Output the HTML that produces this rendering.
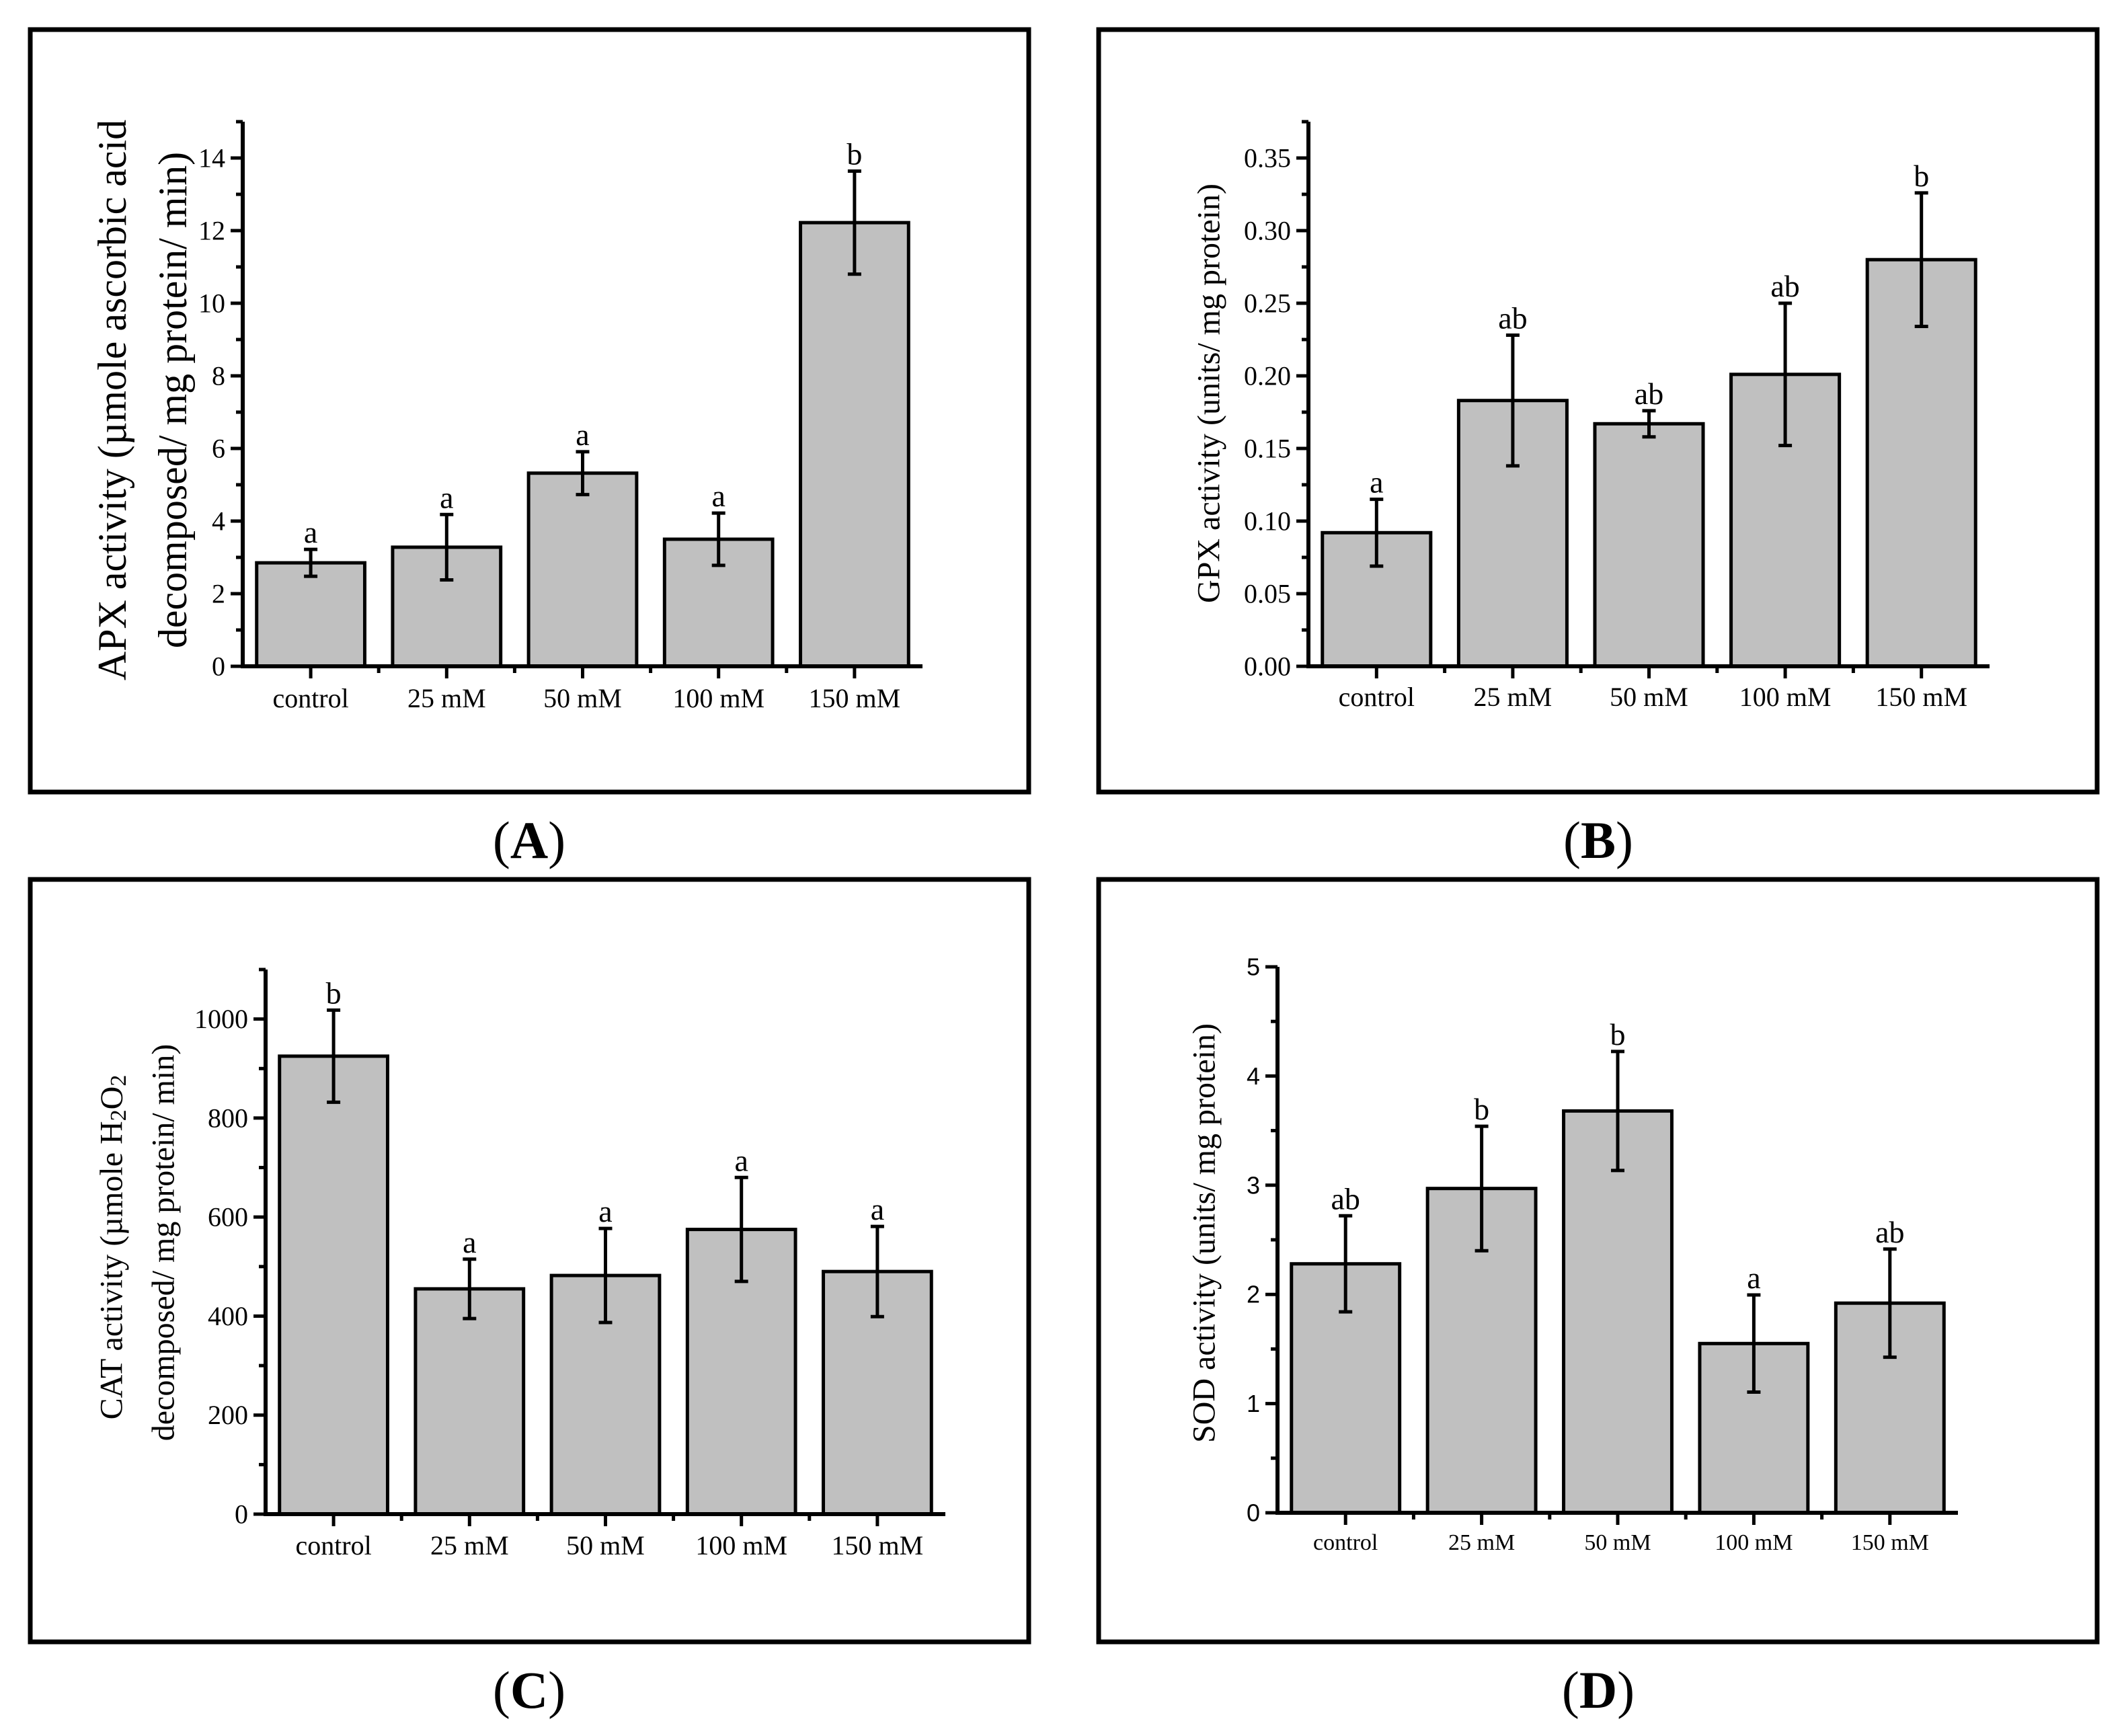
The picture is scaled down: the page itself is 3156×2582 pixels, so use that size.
<!DOCTYPE html>
<html><head><meta charset="utf-8"><style>
html,body{margin:0;padding:0;background:#fff;}
svg{display:block;}
</style></head><body>
<svg id="fig" width="3156" height="2582" viewBox="0 0 3156 2582" xmlns="http://www.w3.org/2000/svg" font-family="'Liberation Serif', serif">
<rect x="0" y="0" width="3156" height="2582" fill="#fff"/>
<rect x="45" y="44" width="1485" height="1134" fill="none" stroke="#000" stroke-width="7"/>
<rect x="1634" y="44" width="1485" height="1134" fill="none" stroke="#000" stroke-width="7"/>
<rect x="45" y="1308" width="1485" height="1134" fill="none" stroke="#000" stroke-width="7"/>
<rect x="1634" y="1308" width="1485" height="1134" fill="none" stroke="#000" stroke-width="7"/>
<text x="787" y="1276" font-size="78" text-anchor="middle">(<tspan font-weight="bold">A</tspan>)</text>
<text x="2377" y="1276" font-size="78" text-anchor="middle">(<tspan font-weight="bold">B</tspan>)</text>
<text x="787" y="2540" font-size="78" text-anchor="middle">(<tspan font-weight="bold">C</tspan>)</text>
<text x="2377" y="2540" font-size="78" text-anchor="middle">(<tspan font-weight="bold">D</tspan>)</text>
<text font-size="60" text-anchor="middle" transform="translate(167,595) rotate(-90)" dominant-baseline="central">APX activity (µmole ascorbic acid</text>
<text font-size="60" text-anchor="middle" transform="translate(257,595) rotate(-90)" dominant-baseline="central">decomposed/ mg protein/ min)</text>
<text font-size="48" text-anchor="middle" transform="translate(1798,585) rotate(-90)" dominant-baseline="central">GPX activity (units/ mg protein)</text>
<text font-size="48" text-anchor="middle" transform="translate(166,1855) rotate(-90)" dominant-baseline="central">CAT activity (µmole H<tspan font-size="34" dy="10">2</tspan><tspan dy="-10">O</tspan><tspan font-size="34" dy="10">2</tspan></text>
<text font-size="48" text-anchor="middle" transform="translate(243,1848) rotate(-90)" dominant-baseline="central">decomposed/ mg protein/ min)</text>
<text font-size="48" text-anchor="middle" transform="translate(1791,1834) rotate(-90)" dominant-baseline="central">SOD activity (units/ mg protein)</text>
<g id="plots"></g>
</svg>
<script>
const categories = ["control", "25 mM", "50 mM", "100 mM", "150 mM"];
const apxValues = [2.85, 3.28, 5.32, 3.5, 12.22];
const apxErrors = [0.37, 0.9, 0.59, 0.72, 1.42];
const apxLetters = ["a", "a", "a", "a", "b"];
const apxTicks = [0, 2, 4, 6, 8, 10, 12, 14];
const gpxValues = [0.092, 0.183, 0.167, 0.201, 0.280];
const gpxErrors = [0.023, 0.045, 0.009, 0.049, 0.046];
const gpxLetters = ["a", "ab", "ab", "ab", "b"];
const gpxTicks = [0, 0.05, 0.10, 0.15, 0.20, 0.25, 0.30, 0.35];
const catValues = [925, 455, 482, 575, 490];
const catErrors = [93, 60, 95, 105, 91];
const catLetters = ["b", "a", "a", "a", "a"];
const catTicks = [0, 200, 400, 600, 800, 1000];
const sodValues = [2.28, 2.97, 3.68, 1.55, 1.92];
const sodErrors = [0.44, 0.57, 0.545, 0.445, 0.495];
const sodLetters = ["ab", "b", "b", "a", "ab"];
const sodTicks = [0, 1, 2, 3, 4, 5];

const NS = "http://www.w3.org/2000/svg";
const root = document.getElementById("plots");
function mk(tag, attrs, parent) {
  const e = document.createElementNS(NS, tag);
  for (const k in attrs) e.setAttribute(k, attrs[k]);
  (parent || root).appendChild(e);
  return e;
}
function panel(p, cfg, vals, errs, letters, ticks) {
  const g = mk("g", {});
  
  
  const yScale = v => cfg.y0 - (v - 0) / cfg.ymax * (cfg.y0 - cfg.ytop);
  const n = categories.length;
  const pitch = (cfg.x1 - cfg.x0) / n;
  const xC = i => cfg.x0 + pitch * (i + 0.5);
  const bw = pitch * 0.795;
  vals.forEach((v, i) => {
    const b = mk("rect", {x: xC(i) - bw / 2, y: yScale(v), width: bw, height: cfg.y0 - yScale(v), fill: "#c0c0c0", stroke: "#000", "stroke-width": 5}, g);
    
    
    const hi = yScale(v + errs[i]), lo = yScale(v - errs[i]);
    const eb = mk("path", {d: `M${xC(i)},${hi}V${lo}M${xC(i)-10},${hi}H${xC(i)+10}M${xC(i)-10},${lo}H${xC(i)+10}`, stroke: "#000", "stroke-width": 5, fill: "none"}, g);
    
    
    const t = mk("text", {x: xC(i), y: hi - 10, "font-size": cfg.letterSize, "text-anchor": "middle"}, g);
    t.textContent = letters[i];
    
    
    const xl = mk("text", {x: xC(i), y: cfg.xlabY, "font-size": cfg.xlabSize, "text-anchor": "middle"}, g);
    xl.textContent = categories[i];
    
    
    const tk = mk("line", {x1: xC(i), x2: xC(i), y1: cfg.y0, y2: cfg.y0 + 18, stroke: "#000", "stroke-width": 5}, g);
    
    
  });
  for (let i = 1; i < n; i++) {
    const mt = mk("line", {x1: cfg.x0 + pitch * i, x2: cfg.x0 + pitch * i, y1: cfg.y0, y2: cfg.y0 + 10, stroke: "#000", "stroke-width": 5}, g);
    
    
  }
  const step = ticks[1] - ticks[0];
  ticks.forEach((t, i) => {
    const y = yScale(t);
    const l = mk("line", {x1: cfg.x0 - 18, x2: cfg.x0, y1: y, y2: y, stroke: "#000", "stroke-width": 5}, g);
    
    
    const lab = mk("text", {x: cfg.x0 - 26, y: y, "font-size": cfg.tickSize, "text-anchor": "end", "dominant-baseline": "central"}, g);
    if (cfg.sans) lab.setAttribute("font-family", "'Liberation Sans', sans-serif");
    lab.textContent = t.toFixed(cfg.dec);
    
    
    const mv = t + step / 2;
    if (mv <= cfg.ymax + 1e-9) {
      const m = mk("line", {x1: cfg.x0 - 10, x2: cfg.x0, y1: yScale(mv), y2: yScale(mv), stroke: "#000", "stroke-width": 5}, g);
      
      
    }
  });
  const ax = mk("path", {d: `M${cfg.x0},${cfg.ytop}V${cfg.y0}H${cfg.x1}`, stroke: "#000", "stroke-width": 6, fill: "none"}, g);
  
  
}
panel("a", {x0: 361, x1: 1372, y0: 991, ytop: 181, ymax: 15, dec: 0, tickSize: 40, xlabSize: 40, xlabY: 1052, letterSize: 46}, apxValues, apxErrors, apxLetters, apxTicks);
panel("b", {x0: 1946, x1: 2959, y0: 991, ytop: 181, ymax: 0.375, dec: 2, tickSize: 40, xlabSize: 40, xlabY: 1050, letterSize: 46}, gpxValues, gpxErrors, gpxLetters, gpxTicks);
panel("c", {x0: 395, x1: 1406, y0: 2252, ytop: 1442, ymax: 1100, dec: 0, tickSize: 40, xlabSize: 40, xlabY: 2312, letterSize: 46}, catValues, catErrors, catLetters, catTicks);
panel("d", {x0: 1900, x1: 2912, y0: 2250, ytop: 1438, ymax: 5, dec: 0, tickSize: 36, xlabSize: 34, xlabY: 2305, letterSize: 46, sans: true}, sodValues, sodErrors, sodLetters, sodTicks);
</script>
</body></html>
